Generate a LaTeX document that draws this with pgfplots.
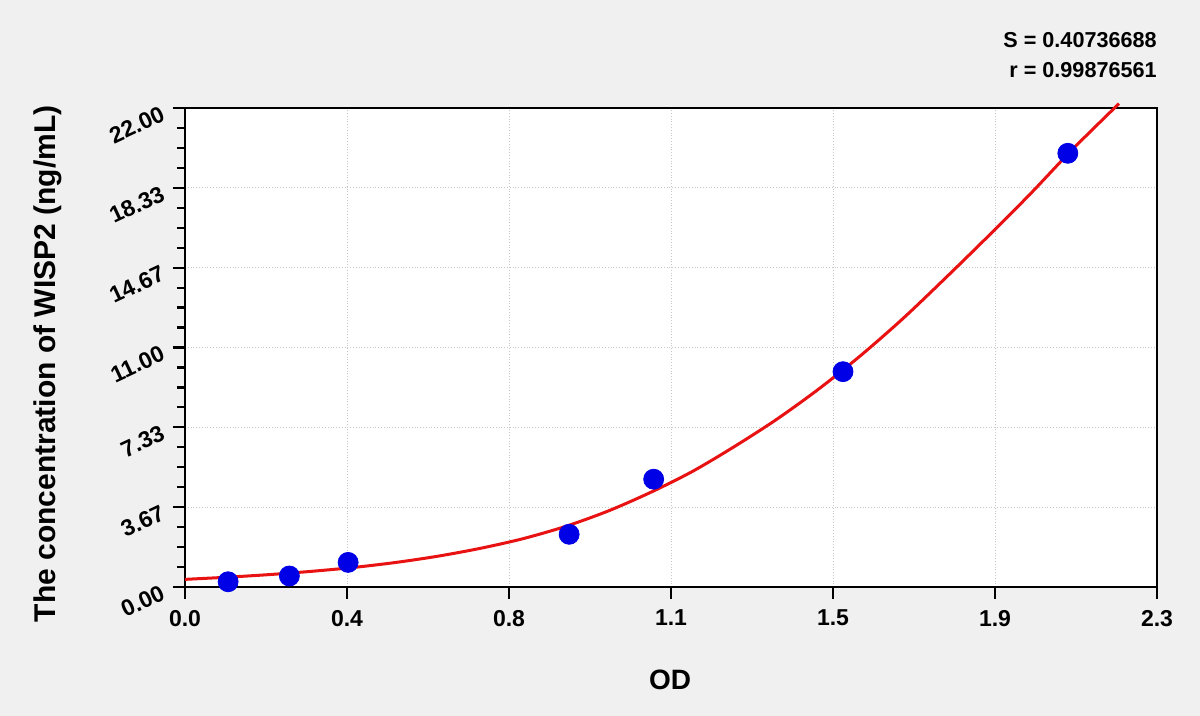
\documentclass[border=0pt]{standalone}
\usepackage{pgfplots}
\pgfplotsset{compat=1.18}
\usepackage{fontspec}
\setmainfont{Liberation Sans}
\definecolor{pagebg}{HTML}{F0F0F0}
\definecolor{ptblue}{HTML}{0000E6}
\definecolor{fitred}{HTML}{E81212}

\begin{document}
\begin{tikzpicture}[x=1pt,y=1pt]
% page background, 1 px = 0.5 pt
\fill[pagebg] (0,0) rectangle (600,358);
\begin{axis}[
  at={(92.5pt,64.5pt)}, anchor=south west,
  scale only axis, width=486pt, height=239.5pt,
  xmin=0, xmax=2.3, ymin=0, ymax=22,
  axis background/.style={fill=white},
  axis line style={black, line width=1.1pt},
  xtick={0,0.383333,0.766667,1.15,1.533333,1.916667,2.3},
  xticklabels={0.0,0.4,0.8,1.1,1.5,1.9,2.3},
  ytick={0,3.666667,7.333333,11,14.666667,18.333333,22},
  yticklabels={0.00,3.67,7.33,11.00,14.67,18.33,22.00},
  minor tick num=3,
  xtick pos=left, ytick pos=left,
  tick align=outside,
  major tick length=6pt, minor tick length=4pt,
  tick style={black, line width=1.1pt},
  grid=major,
  major grid style={densely dotted, gray!45, line width=0.5pt},
  /pgf/number format/assume math mode=true,
  ticklabel style={font=\fontsize{11.5}{13}\selectfont\bfseries},
  yticklabel style={rotate=25, anchor=east, xshift=-2pt},
  xticklabel style={yshift=-2pt},
  clip=false,
]
\addplot[fitred, line width=1.5pt, smooth, tension=0.5] coordinates {
  (0,0.35) (0.1,0.45) (0.2,0.57) (0.3,0.72) (0.4,0.90) (0.5,1.13)
  (0.6,1.42) (0.7,1.78) (0.8,2.22) (0.9,2.78) (1.0,3.48) (1.1,4.33)
  (1.2,5.30) (1.3,6.45) (1.4,7.70) (1.5,9.10) (1.6,10.65) (1.7,12.35)
  (1.8,14.20) (1.9,16.10) (2.0,18.05) (2.1,20.10) (2.21,22.20)
};
\addplot[only marks, mark=*, mark size=5pt, color=ptblue] coordinates {
  (0.102,0.24) (0.247,0.505) (0.386,1.13) (0.909,2.42)
  (1.109,4.95) (1.557,9.89) (2.089,19.92)
};
\end{axis}
\node[anchor=east, inner sep=0pt, font=\fontsize{10.8}{13}\selectfont\bfseries] at (578.5,338) {S = 0.40736688};
\node[anchor=east, inner sep=0pt, font=\fontsize{10.8}{13}\selectfont\bfseries] at (578.5,323) {r = 0.99876561};
\node[font=\fontsize{14}{16}\selectfont\bfseries] at (335,18) {OD};
\node[rotate=90, font=\fontsize{15}{18}\selectfont\bfseries] at (24,176) {The concentration of WISP2 (ng/mL)};
\end{tikzpicture}
\end{document}
